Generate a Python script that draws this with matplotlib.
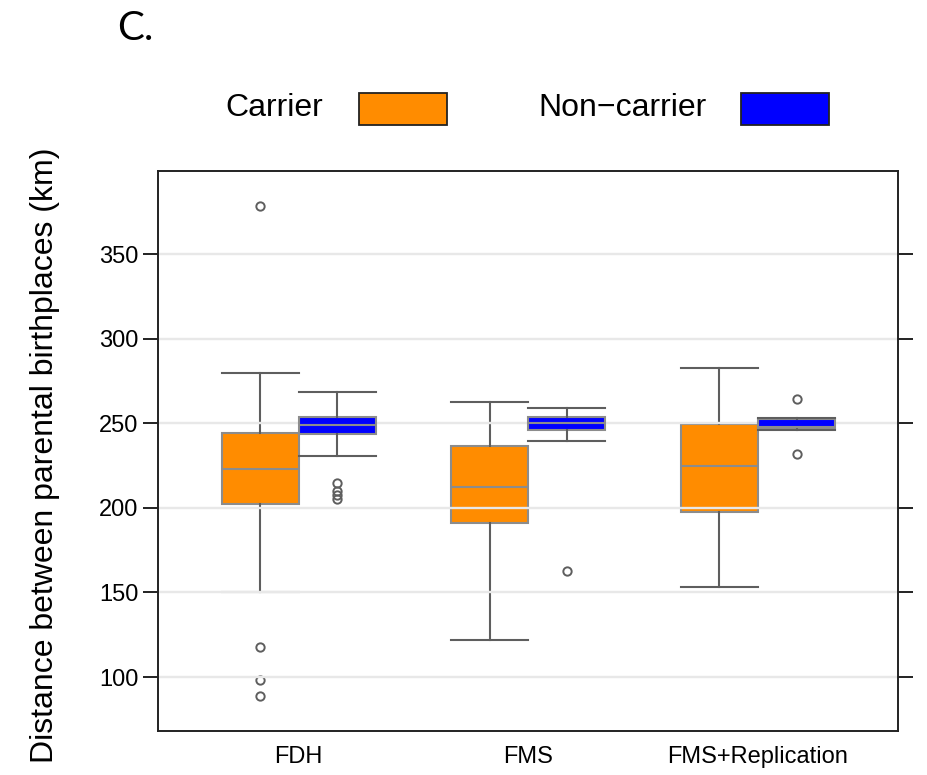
import matplotlib
matplotlib.use("Agg")
import matplotlib.pyplot as plt
from matplotlib.patches import Rectangle

# Groups and per-series box statistics (km)
groups = ["FDH", "FMS", "FMS+Replication"]
series = ["Carrier", "Non-carrier"]
colors = ["#FF8C00", "#0000FF"]

carrier_whislo = [150.0, 122.0, 153.0]
carrier_q1 = [202.5, 191.0, 197.5]
carrier_med = [223.0, 212.5, 225.0]
carrier_q3 = [244.5, 236.5, 249.5]
carrier_whishi = [280.0, 262.5, 283.0]
carrier_fliers = [[378.5, 117.5, 98.0, 89.0], [], []]

noncarrier_whislo = [230.5, 239.5, 246.0]
noncarrier_q1 = [244.0, 246.0, 247.5]
noncarrier_med = [249.0, 250.0, 248.0]
noncarrier_q3 = [254.0, 254.0, 252.5]
noncarrier_whishi = [268.5, 259.0, 253.0]
noncarrier_fliers = [[214.5, 210.0, 207.5, 205.5], [163.0], [264.5, 232.0]]

yticks = [100, 150, 200, 250, 300, 350]

def make_stats(lo, q1, med, q3, hi, fl):
    return [dict(whislo=a, q1=b, med=c, q3=d, whishi=e, fliers=f)
            for a, b, c, d, e, f in zip(lo, q1, med, q3, hi, fl)]

stats = [
    make_stats(carrier_whislo, carrier_q1, carrier_med, carrier_q3,
               carrier_whishi, carrier_fliers),
    make_stats(noncarrier_whislo, noncarrier_q1, noncarrier_med, noncarrier_q3,
               noncarrier_whishi, noncarrier_fliers),
]

plt.rcParams["font.family"] = ["Liberation Sans", "DejaVu Sans"]

W, H = 928, 775
fig = plt.figure(figsize=(W / 100, H / 100), dpi=100)
ax = fig.add_axes([157.7 / W, 1 - 731 / H, (898 - 157.7) / W, (731 - 170.7) / H])

width = 0.336
offsets = [-width / 2, width / 2]
positions_base = list(range(1, len(groups) + 1))
# carrier boxes, then the grid lines, then non-carrier boxes on top
layer = [2, 4]

for st, col, off, z in zip(stats, colors, offsets, layer):
    ax.bxp(st, positions=[p + off for p in positions_base], widths=width,
           patch_artist=True, manage_ticks=False,
           boxprops=dict(facecolor=col, edgecolor="#8c8c8c", linewidth=1.5),
           medianprops=dict(color="#8c8c8c", linewidth=1.5),
           whiskerprops=dict(color="#5e5e5e", linewidth=1.5),
           capprops=dict(color="#5e5e5e", linewidth=1.5),
           capwidths=width,
           flierprops=dict(marker="o", markerfacecolor="none",
                           markeredgecolor="#5e5e5e", markersize=6,
                           markeredgewidth=1.4),
           zorder=z)

for yt in yticks:
    ax.axhline(yt, color="#e8e8e8", linewidth=1.7, zorder=3)

ax.set_xlim(0.386, 3.61)
ax.set_ylim(68.1, 399.4)
ax.set_yticks(yticks)
ax.set_xticks(positions_base)
ax.set_xticklabels(groups, fontsize=17)
ax.tick_params(axis="x", length=0, pad=11)
ax.tick_params(axis="y", which="both", direction="out", length=10.8,
               width=1.4, labelsize=17, pad=3, right=True, labelright=False,
               color="#222222")
for sp in ax.spines.values():
    sp.set_linewidth(1.4)
    sp.set_color("#222222")
    sp.set_zorder(6)

fig.text(45 / W, 1 - 455 / H, "Distance between parental birthplaces (km)",
         rotation=90, ha="center", va="center", fontsize=23)

# Legend drawn as text labels followed by filled keys
fig.text(225 / W, 1 - 108 / H, "Carrier", ha="left", va="center",
         fontsize=23)
fig.text(538 / W, 1 - 108 / H, "Non\u2212carrier", ha="left", va="center",
         fontsize=23)
for x0, col in [(359, colors[0]), (741, colors[1])]:
    fig.patches.append(Rectangle((x0 / W, 1 - 125 / H), 88 / W, 32 / H,
                                 transform=fig.transFigure,
                                 facecolor=col, edgecolor="#222222",
                                 linewidth=1.3))

fig.text(117 / W, 1 - 29 / H, "C.", ha="left", va="center",
         fontsize=29, family=["Lato", "DejaVu Sans"])

fig.savefig("out.png", dpi=100)
